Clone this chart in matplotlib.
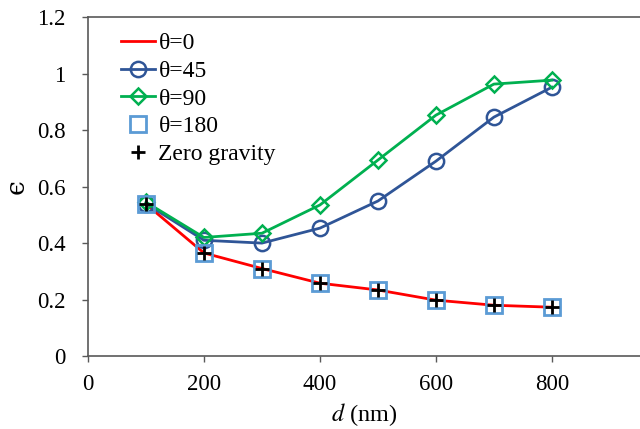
import matplotlib
matplotlib.use("Agg")
import matplotlib.pyplot as plt

d = [100, 200, 300, 400, 500, 600, 700, 800]
eps_0 = [0.538, 0.365, 0.31, 0.258, 0.234, 0.198, 0.18, 0.173]
eps_45 = [0.54, 0.41, 0.40, 0.453, 0.549, 0.69, 0.846, 0.952]
eps_90 = [0.545, 0.42, 0.435, 0.535, 0.694, 0.853, 0.963, 0.977]
eps_180 = [0.54, 0.365, 0.31, 0.258, 0.234, 0.198, 0.18, 0.173]
eps_zero = [0.54, 0.365, 0.31, 0.258, 0.234, 0.198, 0.18, 0.173]
labels = ["θ=0", "θ=45", "θ=90", "θ=180", "Zero gravity"]

plt.rcParams['font.family'] = ['Liberation Serif', 'DejaVu Serif']
plt.rcParams['mathtext.fontset'] = 'stix'

fig = plt.figure(figsize=(6.4, 4.29), dpi=100)
ax = fig.add_axes([0.1375, 0.170, 0.8625, 0.790])

ax.plot(d, eps_0, color='#FF0000', lw=2, label=labels[0], zorder=2)
ax.plot(d, eps_45, color='#2F5597', lw=2, marker='o', ms=11, mfc='none', mew=1.8, label=labels[1], zorder=3)
ax.plot(d, eps_90, color='#00B050', lw=2, marker='D', ms=8, mfc='none', mew=1.8, label=labels[2], zorder=4)
ax.plot(d, eps_180, ls='none', marker='s', ms=12, mfc='none', mec='#5B9BD5', mew=2, label=labels[3], zorder=5)
ax.plot(d, eps_zero, ls='none', marker='+', ms=10, color='black', mew=2, label=labels[4], zorder=6)

ax.set_xlim(0, 952)
ax.set_ylim(0, 1.2)
ax.set_xticks([0, 200, 400, 600, 800])
ax.set_yticks([0, 0.2, 0.4, 0.6, 0.8, 1.0, 1.2])
ax.set_yticklabels(['0', '0.2', '0.4', '0.6', '0.8', '1', '1.2'])
ax.tick_params(labelsize=16.5, direction='out', length=4, color='#595959', width=1)
ax.tick_params(axis='y', pad=12)
ax.tick_params(axis='x', pad=9)
for s in ['left', 'bottom', 'top']:
    ax.spines[s].set_color('#595959')
    ax.spines[s].set_linewidth(1.2)
ax.spines['right'].set_visible(False)

ax.set_xlabel(r"$d$ (nm)", fontsize=17.5, labelpad=4)
ax.set_ylabel("ϵ", fontsize=19, labelpad=6, family=['DejaVu Serif'])

ax.legend(loc='upper left', frameon=False, fontsize=17, bbox_to_anchor=(0.025, 1.01),
          handlelength=1.45, handletextpad=0.15, labelspacing=0.26, borderaxespad=0.4)

fig.savefig("out.png", dpi=100)
